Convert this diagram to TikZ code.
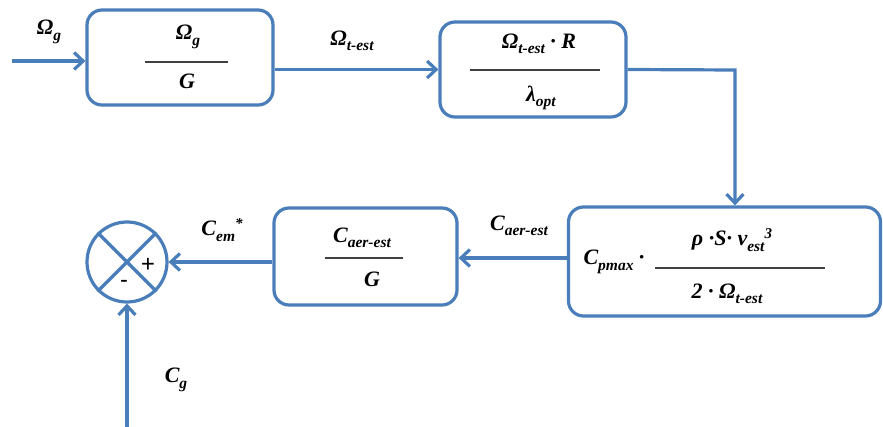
\documentclass[tikz,border=0pt]{standalone}
\usepackage{fontspec}
\setmainfont{Liberation Serif}
\usetikzlibrary{arrows.meta}
\definecolor{lblue}{RGB}{74,126,187}
\newcommand\sbs[1]{\raisebox{-0.24em}{\fontsize{15.5}{15.5}\selectfont #1}}
\newcommand\sps[1]{\raisebox{0.32em}{\fontsize{15}{15}\selectfont #1}}
\tikzset{
  blk/.style={draw=lblue, line width=3.2pt, rounded corners=15pt, inner sep=0pt},
  conn/.style={draw=lblue, line width=3.2pt, line join=miter, -{Straight Barb[length=9pt,width=17pt,line width=3.2pt]}},
  bline/.style={draw=lblue, line width=3.2pt},
  lbl/.style={font=\fontsize{22}{24}\selectfont\bfseries\itshape, inner sep=0pt},
  fbar/.style={draw=black!75, line width=1.6pt}
}
\begin{document}
\begin{tikzpicture}[x=1pt,y=-1pt]
\useasboundingbox (0,0) rectangle (883,427);
% boxes
\node[blk, minimum width=186pt, minimum height=95pt] (b1) at (180,57.5) {};
\node[blk, minimum width=186pt, minimum height=95pt] (b2) at (533,69.5) {};
\node[blk, minimum width=312pt, minimum height=109pt] (b3) at (724.5,261.5) {};
\node[blk, minimum width=183pt, minimum height=97pt] (b4) at (365.5,256.5) {};
\node[draw=lblue, line width=3.2pt, circle, minimum size=80pt, inner sep=0pt] (s) at (127,262) {};
\draw[bline] (s.north west) -- (s.south east);
\draw[bline] (s.north east) -- (s.south west);
\node[lbl, font=\fontsize{25}{25}\selectfont\bfseries] (sp) at (148,265) {+};
\node[lbl, font=\fontsize{22}{22}\selectfont\bfseries] (sm) at (124,283) {-};
% box 1 contents
\node[lbl] (n1) at (188,37) {Ω\sbs{g}};
\draw[fbar] (145,62) -- (228,62);
\node[lbl] (d1) at (187,81) {G};
% box 2 contents
\node[lbl] (n2) at (539,44) {Ω\sbs{t-est} · R};
\draw[fbar] (470,70) -- (600,70);
\node[lbl] (d2) at (541,98) {λ\sbs{opt}};
% box 3 contents
\node[lbl] (cp) at (614,262) {C\sbs{pmax} ·};
\node[lbl] (n3) at (732,240) {ρ ·S· v\sbs{est}\sps{3}};
\draw[fbar] (655,268) -- (825,268);
\node[lbl] (d3) at (727,294) {2 · Ω\sbs{t-est}};
% box 4 contents
\node[lbl] (n4) at (362,238) {C\sbs{aer-est}};
\draw[fbar] (325,258) -- (403,258);
\node[lbl] (d4) at (372,279) {G};
% connectors
\coordinate (in) at (12,61);
\coordinate (cgin) at (127,427);
\coordinate (turn) at (735,70);
\coordinate (mid) at (0,258);
\draw[conn] (in) -- (in -| b1.west);
\draw[conn] (b1.east |- b2.west) -- (b2.west);
\draw[conn] (b2.east) -- (turn) -- (turn |- b3.north);
\draw[conn] (b3.west |- mid) -- (b4.east |- mid);
\draw[conn] (b4.west |- s.east) -- (s.east);
\draw[conn] (cgin) -- (s.south);
% labels
\node[lbl] (lOg) at (49,32) {Ω\sbs{g}};
\node[lbl] (lOt) at (352,41) {Ω\sbs{t-est}};
\node[lbl] (lCa) at (519,226) {C\sbs{aer-est}};
\node[lbl] (lCe) at (222,230) {C\sbs{em}\sps{*}};
\node[lbl] (lCg) at (176,380) {C\sbs{g}};
\end{tikzpicture}
\end{document}
